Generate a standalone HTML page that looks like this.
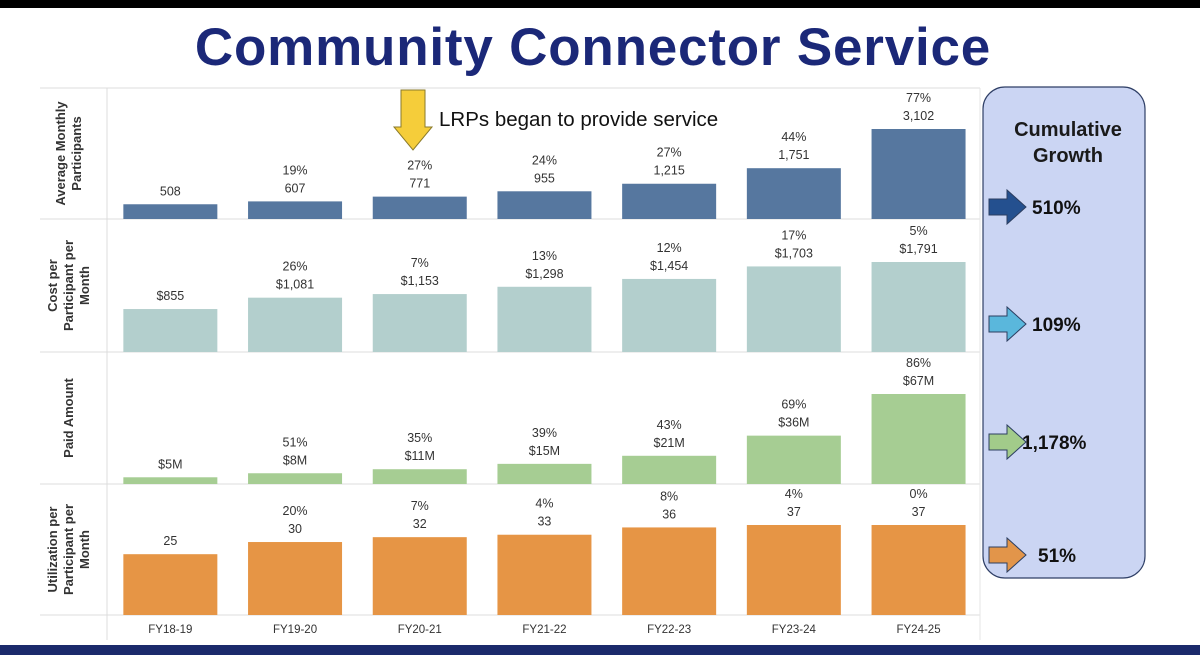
<!DOCTYPE html>
<html><head><meta charset="utf-8"><style>
body{margin:0;width:1200px;height:655px;background:#fff;overflow:hidden;position:relative;font-family:"Liberation Sans","DejaVu Sans",sans-serif}
#top{position:absolute;left:0;top:0;width:1200px;height:8px;background:#000}
#bot{position:absolute;left:0;top:645px;width:1200px;height:10px;background:#1b2a6b}
#title{position:absolute;left:0;width:1186px;top:17px;text-align:center;font-size:53px;font-weight:bold;color:#1b2878;letter-spacing:0.8px}
svg{position:absolute;left:0;top:0}
</style></head><body>
<div id="top"></div>
<div id="title">Community Connector Service</div>
<svg id="chart" width="1200" height="655"></svg>
<div id="bot"></div>
<script>
const categories=["FY18-19","FY19-20","FY20-21","FY21-22","FY22-23","FY23-24","FY24-25"];
const participants=[508,607,771,955,1215,1751,3102];
const participantsPct=["","19%","27%","24%","27%","44%","77%"];
const participantsLbl=["508","607","771","955","1,215","1,751","3,102"];
const cost=[855,1081,1153,1298,1454,1703,1791];
const costPct=["","26%","7%","13%","12%","17%","5%"];
const costLbl=["$855","$1,081","$1,153","$1,298","$1,454","$1,703","$1,791"];
const paid=[5,8,11,15,21,36,67];
const paidPct=["","51%","35%","39%","43%","69%","86%"];
const paidLbl=["$5M","$8M","$11M","$15M","$21M","$36M","$67M"];
const util=[25,30,32,33,36,37,37];
const utilPct=["","20%","7%","4%","8%","4%","0%"];
const utilLbl=["25","30","32","33","36","37","37"];
const growth=["510%","109%","1,178%","51%"];
const rowTitles=[["Average Monthly","Participants"],["Cost per","Participant per","Month"],["Paid Amount"],["Utilization per","Participant per","Month"]];

const NS="http://www.w3.org/2000/svg";
const svg=document.getElementById('chart');
function mk(t,a,p){const e=document.createElementNS(NS,t);for(const k in a)e.setAttribute(k,a[k]);(p||svg).appendChild(e);return e;}
const x0=107,step=124.7,bw=94;
function xc(i){return x0+step*(i+0.5)+1;}
const rows=[
 {v:participants,p:participantsPct,l:participantsLbl,c:"#56779f",base:219,name:"participants"},
 {v:cost,p:costPct,l:costLbl,c:"#b3cfcd",base:352,name:"cost"},
 {v:paid,p:paidPct,l:paidLbl,c:"#a6cd93",base:484,name:"paid"},
 {v:util,p:utilPct,l:utilLbl,c:"#e69545",base:615,name:"utilization"}];
[88,219,352,484,615].forEach(y=>{const l=mk('line',{x1:40,x2:980,y1:y,y2:y,stroke:'#dcdcdc','stroke-width':1});
});
const vl=mk('line',{x1:107,x2:107,y1:88,y2:640,stroke:'#dcdcdc'});

const vr=mk('line',{x1:980,x2:980,y1:88,y2:640,stroke:'#e6e6e6'});

rows.forEach((r,ri)=>{
 const mx=Math.max(...r.v);
 const yscale=v=>r.base-v/mx*90;
 r.v.forEach((v,i)=>{
  const y=yscale(v);
  const b=mk('rect',{x:xc(i)-bw/2,y:y,width:bw,height:r.base-y,fill:r.c});
  
  
  const t=mk('text',{x:xc(i),y:y-9,'text-anchor':'middle','font-size':12.5,fill:'#333'});t.textContent=r.l[i];
  
  if(r.p[i]){const t2=mk('text',{x:xc(i),y:y-27,'text-anchor':'middle','font-size':12.5,fill:'#333'});t2.textContent=r.p[i];
  }
 });
 const top=ri==0?88:rows[ri-1].base, mid=(top+r.base)/2;
 const lines=rowTitles[ri];
 const g=mk('text',{transform:`translate(${73-(lines.length-1)*8},${mid}) rotate(-90)`,'text-anchor':'middle','font-size':13,'font-weight':'bold',fill:'#333'});
 
 lines.forEach((s,k)=>{const ts=mk('tspan',{x:0,dy:k==0?0:16},g);ts.textContent=s;});
});
categories.forEach((c,i)=>{const t=mk('text',{x:xc(i),y:633,'text-anchor':'middle','font-size':11.5,fill:'#333'});t.textContent=c;
});
const ar=mk('path',{d:'M401 90 h24 v37 h7 l-19 23 l-19 -23 h7 z',fill:'#f5cd3a',stroke:'#8a7a2a','stroke-width':1});

const an=mk('text',{x:439,y:126,'font-size':20.5,fill:'#111'});an.textContent='LRPs began to provide service';

const pn=mk('rect',{x:983,y:87,width:162,height:491,rx:22,fill:'#cbd5f3',stroke:'#2f3f66','stroke-width':1.2});

const h=mk('text',{x:1068,y:136,'text-anchor':'middle','font-size':20,'font-weight':'bold',fill:'#1a1a1a'});

[["Cumulative",0],["Growth",26]].forEach(([s,d])=>{const ts=mk('tspan',{x:1068,dy:d},h);ts.textContent=s;});
const ay=[207,324,442,555], acol=["#24508f","#5ab7dc","#a2cb8a","#e2954a"], tx=[1032,1032,1022,1038];
growth.forEach((g,i)=>{const y=ay[i];
 const a=mk('path',{d:`M989 ${y-8} h18 v-9 l19 17 l-19 17 v-9 h-18 z`,fill:acol[i],stroke:'#2c3e60','stroke-width':1});
 
 const t=mk('text',{x:tx[i],y:y+7,'font-size':19,'font-weight':'bold',fill:'#111'});t.textContent=g;
 });
</script>
</body></html>
